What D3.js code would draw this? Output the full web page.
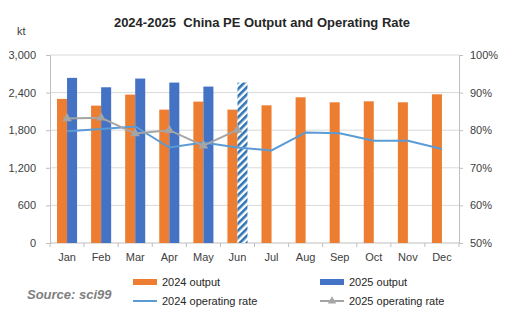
<!DOCTYPE html>
<html>
<head>
<meta charset="utf-8">
<script src="https://cdn.jsdelivr.net/npm/d3@7"></script>
<style>
  body { margin: 0; background: #fff; }
  svg { display: block; font-family: "Liberation Sans", Arial, sans-serif; }
</style>
</head>
<body>
<div id="chart"></div>
<script>
const months = ["Jan", "Feb", "Mar", "Apr", "May", "Jun", "Jul", "Aug", "Sep", "Oct", "Nov", "Dec"];
const output2024 = [2300, 2192, 2368, 2128, 2256, 2128, 2197, 2325, 2245, 2261, 2245, 2373];
const output2025 = [2635, 2485, 2624, 2560, 2496, 2560];
const rate2024 = [79.7, 80.3, 81.0, 75.4, 76.7, 75.4, 74.6, 79.4, 79.2, 77.2, 77.2, 75.0];
const rate2025 = [83.1, 83.3, 79.1, 80.0, 75.9, 80.1];
const leftTicks = [0, 600, 1200, 1800, 2400, 3000];
const rightTicks = [50, 60, 70, 80, 90, 100];
const estimatedMonth = "Jun"; // 2025 bar drawn hatched

const width = 511;
const height = 327;
const margin = { top: 55, right: 52, bottom: 84, left: 50 };

const svg = d3
  .select("#chart")
  .append("svg")
  .attr("width", width)
  .attr("height", height);

const defs = svg.append("defs");
const pattern = defs
  .append("pattern")
  .attr("id", "hatch")
  .attr("patternUnits", "userSpaceOnUse")
  .attr("width", 5)
  .attr("height", 5)
  .attr("patternTransform", "rotate(45)");
pattern.append("rect").attr("width", 5).attr("height", 5).attr("fill", "#fff");
pattern.append("rect").attr("width", 2.6).attr("height", 5).attr("fill", "#2e75b6");

const x = d3
  .scaleBand()
  .domain(months)
  .range([margin.left, width - margin.right]);
const xSub = d3
  .scaleBand()
  .domain(["2024", "2025"])
  .range([0, x.bandwidth()])
  .paddingInner(0)
  .paddingOuter(0.7);

const y = d3
  .scaleLinear()
  .domain([0, 3000])
  .range([height - margin.bottom, margin.top]);
const yR = d3
  .scaleLinear()
  .domain([50, 100])
  .range([height - margin.bottom, margin.top]);

// gridlines
svg
  .append("g")
  .selectAll("line")
  .data(leftTicks.slice(1))
  .join("line")
  .attr("x1", margin.left)
  .attr("x2", width - margin.right)
  .attr("y1", (d) => y(d))
  .attr("y2", (d) => y(d))
  .attr("stroke", "#d9d9d9")
  .attr("stroke-width", 1);

// left axis
const leftAxis = svg
  .append("g")
  .attr("transform", `translate(${margin.left},0)`)
  .call(d3.axisLeft(y).tickValues(leftTicks).tickFormat(d3.format(",")).tickSize(4).tickPadding(10));
leftAxis.selectAll("path, line").attr("stroke", "#bfbfbf");
leftAxis.selectAll("text").attr("font-size", 11).attr("fill", "#404040");

// right axis
const rightAxis = svg
  .append("g")
  .attr("transform", `translate(${width - margin.right},0)`)
  .call(d3.axisRight(yR).tickValues(rightTicks).tickFormat((d) => d + "%").tickSize(4).tickPadding(7));
rightAxis.selectAll("path, line").attr("stroke", "#bfbfbf");
rightAxis.selectAll("text").attr("font-size", 11).attr("fill", "#404040");

// bottom axis with ticks between categories
const xAxisG = svg.append("g");
xAxisG
  .append("line")
  .attr("x1", margin.left)
  .attr("x2", width - margin.right)
  .attr("y1", y(0))
  .attr("y2", y(0))
  .attr("stroke", "#bfbfbf");
xAxisG
  .selectAll("line.tick")
  .data(months.concat(["end"]))
  .join("line")
  .attr("class", "tick")
  .attr("x1", (d, i) => margin.left + i * x.step())
  .attr("x2", (d, i) => margin.left + i * x.step())
  .attr("y1", y(0))
  .attr("y2", y(0) + 4)
  .attr("stroke", "#bfbfbf");
xAxisG
  .selectAll("text")
  .data(months)
  .join("text")
  .attr("x", (d) => x(d) + x.bandwidth() / 2)
  .attr("y", y(0) + 18)
  .attr("text-anchor", "middle")
  .attr("font-size", 11)
  .attr("fill", "#404040")
  .text((d) => d);

// bars
svg
  .append("g")
  .selectAll("rect")
  .data(output2024)
  .join("rect")
  .attr("x", (d, i) => x(months[i]) + xSub("2024"))
  .attr("y", (d) => y(d))
  .attr("width", xSub.bandwidth())
  .attr("height", (d) => y(0) - y(d))
  .attr("fill", "#ed7d31");

svg
  .append("g")
  .selectAll("rect")
  .data(output2025)
  .join("rect")
  .attr("x", (d, i) => x(months[i]) + xSub("2025"))
  .attr("y", (d) => y(d))
  .attr("width", xSub.bandwidth())
  .attr("height", (d) => y(0) - y(d))
  .attr("fill", (d, i) => (months[i] === estimatedMonth ? "url(#hatch)" : "#4472c4"));

// lines
const line = d3
  .line()
  .x((d, i) => x(months[i]) + x.bandwidth() / 2)
  .y((d) => yR(d));

svg
  .append("path")
  .datum(rate2024)
  .attr("d", line)
  .attr("fill", "none")
  .attr("stroke", "#5b9bd5")
  .attr("stroke-width", 2);

svg
  .append("path")
  .datum(rate2025)
  .attr("d", line)
  .attr("fill", "none")
  .attr("stroke", "#a5a5a5")
  .attr("stroke-width", 2);

const tri = d3.symbol().type(d3.symbolTriangle).size(40);
svg
  .append("g")
  .selectAll("path")
  .data(rate2025)
  .join("path")
  .attr("d", tri)
  .attr("transform", (d, i) => `translate(${x(months[i]) + x.bandwidth() / 2},${yR(d)})`)
  .attr("fill", "#a5a5a5");

// title and unit
svg
  .append("text")
  .attr("x", 262)
  .attr("y", 27)
  .attr("text-anchor", "middle")
  .attr("font-size", 13)
  .attr("font-weight", "bold")
  .attr("fill", "#262626")
  .attr("xml:space", "preserve")
  .text("2024-2025  China PE Output and Operating Rate");

svg
  .append("text")
  .attr("x", 17)
  .attr("y", 35)
  .attr("font-size", 11)
  .attr("fill", "#404040")
  .text("kt");

// legend
const legendItems = [
  { label: "2024 output", type: "bar", color: "#ed7d31", x: 133, y: 282 },
  { label: "2025 output", type: "bar", color: "#4472c4", x: 320, y: 282 },
  { label: "2024 operating rate", type: "line", color: "#5b9bd5", x: 133, y: 301 },
  { label: "2025 operating rate", type: "marker", color: "#a5a5a5", x: 320, y: 301 },
];
const legend = svg
  .append("g")
  .selectAll("g")
  .data(legendItems)
  .join("g")
  .attr("transform", (d) => `translate(${d.x},${d.y})`);
legend
  .filter((d) => d.type === "bar")
  .append("rect")
  .attr("x", 0)
  .attr("y", -3)
  .attr("width", 24)
  .attr("height", 6)
  .attr("fill", (d) => d.color);
legend
  .filter((d) => d.type !== "bar")
  .append("line")
  .attr("x1", 0)
  .attr("x2", 24)
  .attr("stroke", (d) => d.color)
  .attr("stroke-width", 2);
legend
  .filter((d) => d.type === "marker")
  .append("path")
  .attr("d", d3.symbol().type(d3.symbolTriangle).size(30))
  .attr("transform", "translate(12,0)")
  .attr("fill", (d) => d.color);
legend
  .append("text")
  .attr("x", 29)
  .attr("y", 4)
  .attr("font-size", 11)
  .attr("fill", "#262626")
  .text((d) => d.label);

svg
  .append("text")
  .attr("x", 27)
  .attr("y", 299)
  .attr("font-size", 13)
  .attr("font-weight", "bold")
  .attr("font-style", "italic")
  .attr("fill", "#7f7f7f")
  .text("Source: sci99");
</script>
</body>
</html>
